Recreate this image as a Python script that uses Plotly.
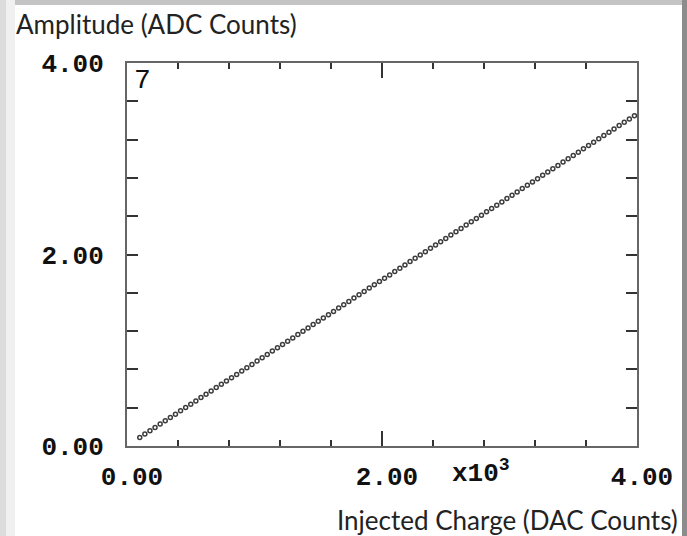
import plotly.graph_objects as go

# Data
injected_charge = [100, 140, 180, 220, 260, 300, 340, 380, 420, 460, 500, 540, 580, 620, 660, 700,
                   740, 780, 820, 860, 900, 940, 980, 1020, 1060, 1100, 1140, 1180, 1220, 1260, 1300,
                   1340, 1380, 1420, 1460, 1500, 1540, 1580, 1620, 1660, 1700, 1740, 1780, 1820, 1860,
                   1900, 1940, 1980, 2020, 2060, 2100, 2140, 2180, 2220, 2260, 2300, 2340, 2380, 2420,
                   2460, 2500, 2540, 2580, 2620, 2660, 2700, 2740, 2780, 2820, 2860, 2900, 2940, 2980,
                   3020, 3060, 3100, 3140, 3180, 3220, 3260, 3300, 3340, 3380, 3420, 3460, 3500, 3540,
                   3580, 3620, 3660, 3700, 3740, 3780, 3820, 3860, 3900, 3940, 3980]
amplitude = [0.090, 0.125, 0.159, 0.194, 0.229, 0.263, 0.298, 0.332, 0.367, 0.402, 0.436, 0.471,
             0.506, 0.540, 0.575, 0.610, 0.644, 0.679, 0.714, 0.748, 0.783, 0.817, 0.852, 0.887,
             0.921, 0.956, 0.991, 1.025, 1.060, 1.095, 1.129, 1.164, 1.198, 1.233, 1.268, 1.302,
             1.337, 1.372, 1.406, 1.441, 1.476, 1.510, 1.545, 1.580, 1.614, 1.649, 1.683, 1.718,
             1.753, 1.787, 1.822, 1.857, 1.891, 1.926, 1.961, 1.995, 2.030, 2.064, 2.099, 2.134,
             2.168, 2.203, 2.238, 2.272, 2.307, 2.342, 2.376, 2.411, 2.446, 2.480, 2.515, 2.549,
             2.584, 2.619, 2.653, 2.688, 2.723, 2.757, 2.792, 2.827, 2.861, 2.896, 2.930, 2.965,
             3.000, 3.034, 3.069, 3.104, 3.138, 3.173, 3.208, 3.242, 3.277, 3.312, 3.346, 3.381,
             3.415, 3.450]

x_tick_vals = [0, 2000, 4000]
x_tick_text = ["0.00", "2.00", "4.00"]
y_tick_vals = [0, 2, 4]
y_tick_text = ["0.00", "2.00", "4.00"]

y_title = "Amplitude (ADC Counts)"
x_title = "Injected Charge (DAC Counts)"
x_scale_label = "x10<sup>3</sup>"
panel_label = "7"

W, H = 687, 536
L, R, T, B = 127, 50, 63, 90
PW, PH = W - L - R, H - T - B


def px(x):
    return (x - L) / PW


def py(y):
    return (H - B - y) / PH


tick_font = dict(family="Liberation Mono", size=26, color="#111111", weight="bold")
title_font = dict(family="Lato", size=26, color="#222222")

fig = go.Figure()
fig.add_trace(go.Scatter(
    x=injected_charge, y=amplitude, mode="markers",
    marker=dict(symbol="circle-open", size=4, color="#3c3c3c", line=dict(width=1.5, color="#3c3c3c")),
    showlegend=False, hoverinfo="skip",
))

axis_common = dict(
    showline=True, linecolor="#666666", linewidth=2, mirror="ticks",
    ticks="inside", tickcolor="#333333", tickwidth=2,
    showgrid=False, zeroline=False, tickfont=tick_font,
)

fig.update_xaxes(
    range=[0, 4000], tickmode="array", tickvals=x_tick_vals, ticktext=x_tick_text,
    ticklen=15, ticklabelstandoff=6, ticklabelshift=5,
    minor=dict(tick0=0, dtick=400, ticks="inside", ticklen=6, tickwidth=2, tickcolor="#333333", showgrid=False),
    **axis_common,
)
fig.update_yaxes(
    range=[0, 4], tickmode="array", tickvals=y_tick_vals, ticktext=y_tick_text,
    ticklen=11, ticklabelstandoff=16,
    minor=dict(tick0=0, dtick=0.4, ticks="inside", ticklen=11, tickwidth=2, tickcolor="#333333", showgrid=False),
    **axis_common,
)

annotations = [
    dict(text=y_title, x=px(14), y=py(24), xanchor="left", yanchor="middle", font=title_font),
    dict(text=x_title, x=px(680), y=py(520), xanchor="right", yanchor="middle", font=title_font),
    dict(text=x_scale_label, x=px(450), y=py(472), xanchor="left", yanchor="middle", font=tick_font),
    dict(text=panel_label, x=px(132), y=py(80), xanchor="left", yanchor="middle",
         font=dict(family="Liberation Mono", size=28, color="#111111")),
]
for a in annotations:
    a.update(xref="paper", yref="paper", showarrow=False)

shapes = [
    dict(type="rect", x0=px(0), x1=px(W), y0=py(0), y1=py(5), fillcolor="#c4c4c4", line_width=0, layer="below"),
    dict(type="rect", x0=px(0), x1=px(6), y0=py(0), y1=py(H), fillcolor="#dcdcdc", line_width=0, layer="below"),
    dict(type="rect", x0=px(6), x1=px(15), y0=py(0), y1=py(H), fillcolor="#f0f0f0", line_width=0, layer="below"),
    dict(type="rect", x0=px(682), x1=px(W), y0=py(0), y1=py(H), fillcolor="#8c8c8c", line_width=0, layer="below"),
]
for s in shapes:
    s.update(xref="paper", yref="paper")

fig.update_layout(
    width=W, height=H, margin=dict(l=L, r=R, t=T, b=B),
    paper_bgcolor="white", plot_bgcolor="white",
    annotations=annotations, shapes=shapes, showlegend=False,
)

fig.write_html("out.html")
